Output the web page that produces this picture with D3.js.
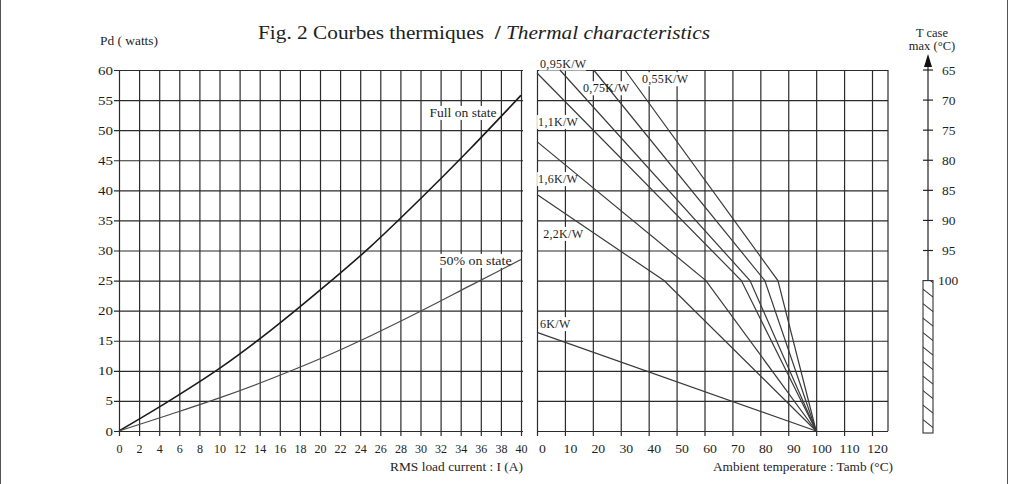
<!DOCTYPE html>
<html><head><meta charset="utf-8">
<script src="https://cdn.jsdelivr.net/npm/d3@7"></script>
<style>
body{margin:0;background:#fff}
svg{display:block}
text{font-family:"Liberation Serif","DejaVu Serif",serif;fill:#1e1e1e}
</style>
</head><body><svg id="c" width="1010" height="484"></svg>
<script>
// ---- data ----
const currentTicks = d3.range(0, 41, 2);
const powerTicks = d3.range(0, 61, 5);
const tambTicks = d3.range(0, 121, 10);
const tcaseTicks = [65, 70, 75, 80, 85, 90, 95];
const tcaseLimit = 100;

const currentA = [0, 5, 10, 15, 20, 25, 30, 35, 40];
const fullOn   = [0, 5.0, 10.4, 16.6, 23.4, 30.6, 38.6, 47.0, 55.8];
const halfOn   = [0, 2.7, 5.5, 8.6, 12.0, 15.8, 19.9, 24.2, 28.5];

const rthNames = ["0,55K/W", "0,75K/W", "0,95K/W", "1,1K/W", "1,6K/W", "2,2K/W", "6K/W"];
const rthTamb  = [[31.5, 86.3, 100], [20.3, 81.6, 100], [8.2, 76.3, 100], [0, 73.2, 100], [0, 60.5, 100], [0, 45.5, 100], [0, 100]];
const rthPower = [[60, 25, 0], [60, 25, 0], [60, 25, 0], [59.5, 25, 0], [48.1, 25, 0], [39.3, 25, 0], [16.4, 0]];
const rthLabelT = [37.6, 16.5, 1.1, 0.4, 0.4, 2.2, 1.1];
const rthLabelP = [57.8, 56.3, 60.4, 50.7, 41.2, 32.1, 17.1];

const curveNames = ["Full on state", "50% on state"];
const curveLabelI = [30.9, 31.9];
const curveLabelP = [52.2, 27.6];

// ---- scales ----
const svg = d3.select("#c");
const xL = d3.scaleLinear([0, 40], [119, 521]);
const y = d3.scaleLinear([0, 60], [431, 70]);
const xR = d3.scaleLinear([0, 120], [537, 872]);
const rightEdge = 888;
const tc = d3.scaleLinear([65, 125], [y(60), y(0)]);
const gridColor = "#2b2b2b";

function stretch(sel, k) {
  sel.each(function () {
    const w = this.getComputedTextLength();
    d3.select(this).attr("textLength", w * k).attr("lengthAdjust", "spacingAndGlyphs");
  });
}
function fitWidth(sel, w) {
  sel.attr("textLength", w).attr("lengthAdjust", "spacingAndGlyphs");
}

// frame
svg.append("line").attr("x1", 0.5).attr("x2", 0.5).attr("y1", 0).attr("y2", 484).attr("stroke", "#555");
svg.append("line").attr("x1", 1007.5).attr("x2", 1007.5).attr("y1", 0).attr("y2", 484).attr("stroke", "#555");

const gGrid = svg.append("g");
const gBg = svg.append("g");
const gCurves = svg.append("g");
const gText = svg.append("g");

function styleAxis(g, size) {
  g.select(".domain").remove();
  g.selectAll(".tick line").attr("stroke", gridColor).attr("stroke-width", 1.2);
  g.selectAll(".tick text").attr("font-size", size).attr("fill", "#1a1a1a")
    .attr("font-family", "'Liberation Serif',serif");
}

// left plot grid + axes
const hL = y(0) + 5 - y(60);
gGrid.append("g").attr("transform", `translate(0,${y(0) + 5})`)
  .call(d3.axisBottom(xL).tickValues(currentTicks).tickSizeInner(-hL).tickSizeOuter(0).tickPadding(8))
  .call(g => styleAxis(g, 12));
const wL = xL(40) + 2 - (xL(0) - 5);
const yAx = gGrid.append("g").attr("transform", `translate(${xL(0) - 5},0)`)
  .call(d3.axisLeft(y).tickValues(powerTicks).tickSizeInner(-wL).tickSizeOuter(0).tickPadding(1))
  .call(g => styleAxis(g, 12.5));
stretch(yAx.selectAll(".tick text"), 1.2);

// right plot grid + axes
const rAx = gGrid.append("g").attr("transform", `translate(0,${y(0) + 5})`)
  .call(d3.axisBottom(xR).tickValues(tambTicks).tickSizeInner(-hL).tickSizeOuter(0).tickPadding(8))
  .call(g => styleAxis(g, 12.5));
rAx.selectAll(".tick text").attr("dx", 5);
stretch(rAx.selectAll(".tick text"), 1.1);
gGrid.append("g").attr("transform", `translate(${xR(0)},0)`)
  .call(d3.axisLeft(y).tickValues(powerTicks).tickSizeInner(-(rightEdge - xR(0))).tickSizeOuter(0).tickFormat(""))
  .call(g => styleAxis(g, 12));
gGrid.append("line").attr("x1", rightEdge).attr("x2", rightEdge).attr("y1", y(60)).attr("y2", y(0))
  .attr("stroke", gridColor).attr("stroke-width", 1.2);

// curves left
const lineL = d3.line().x(d => xL(d[0])).y(d => y(d[1])).curve(d3.curveMonotoneX);
gCurves.append("path").attr("d", lineL(currentA.map((c, i) => [c, fullOn[i]])))
  .attr("fill", "none").attr("stroke", "#1a1a1a").attr("stroke-width", 1.6);
gCurves.append("path").attr("d", lineL(currentA.map((c, i) => [c, halfOn[i]])))
  .attr("fill", "none").attr("stroke", "#4a4a4a").attr("stroke-width", 1.2);

// curves right
const lineR = d3.line().x(d => xR(d[0])).y(d => y(d[1]));
rthNames.forEach((n, k) => {
  gCurves.append("path").attr("d", lineR(rthTamb[k].map((t, i) => [t, rthPower[k][i]])))
    .attr("fill", "none").attr("stroke", "#3a3a3a").attr("stroke-width", 1.2);
});

function label(x, yy, txt, size, bg, width) {
  const t = gText.append("text").attr("x", x).attr("y", yy).attr("font-size", size).text(txt);
  if (width) fitWidth(t, width);
  if (bg) {
    const b = t.node().getBBox();
    gBg.append("rect").attr("x", b.x - 1).attr("y", b.y).attr("width", b.width + 2).attr("height", b.height)
      .attr("fill", "#fff");
  }
  return t;
}
rthNames.forEach((n, k) => label(xR(rthLabelT[k]), y(rthLabelP[k]), n, 12, true).attr("letter-spacing", 0.3));
const curveW = [67, 72];
curveNames.forEach((n, k) => label(xL(curveLabelI[k]), y(curveLabelP[k]), n, 12.5, true, curveW[k]));

// titles
const title = gText.append("text").attr("x", 258).attr("y", 39).attr("font-size", 18.5);
title.append("tspan").text("Fig. 2 Courbes thermiques \u00a0");
title.append("tspan").attr("font-weight", "bold").text("/ ");
title.append("tspan").attr("font-style", "italic").text("Thermal characteristics");
fitWidth(title, 452);
fitWidth(gText.append("text").attr("x", 100).attr("y", 45).attr("font-size", 12).text("Pd ( watts)"), 58);
fitWidth(gText.append("text").attr("x", 390).attr("y", 471).attr("font-size", 12.5).text("RMS load current : I (A)"), 133);
fitWidth(gText.append("text").attr("x", 713).attr("y", 471).attr("font-size", 12.5).text("Ambient temperature : Tamb (\u00b0C)"), 180);

// T case scale
const ax = 928;
svg.append("line").attr("x1", ax).attr("x2", ax).attr("y1", tc(65) - 8).attr("y2", tc(tcaseLimit))
  .attr("stroke", "#222").attr("stroke-width", 1.2);
svg.append("path").attr("d", `M${ax},${tc(65) - 16}L${ax - 4},${tc(65) - 3}L${ax + 4},${tc(65) - 3}Z`).attr("fill", "#111");
tcaseTicks.forEach(v => {
  svg.append("line").attr("x1", ax - 5).attr("x2", ax + 5).attr("y1", tc(v)).attr("y2", tc(v))
    .attr("stroke", "#222").attr("stroke-width", 1.2);
  gText.append("text").attr("x", ax + 14).attr("y", tc(v)).attr("dy", "0.35em").attr("font-size", 13.5).text(v);
});
gText.append("text").attr("x", ax + 10).attr("y", tc(tcaseLimit)).attr("dy", "0.35em").attr("font-size", 13.5).text(tcaseLimit);
gText.append("text").attr("x", 932).attr("y", 37).attr("font-size", 12.5).attr("text-anchor", "middle").text("T case");
gText.append("text").attr("x", 932).attr("y", 50).attr("font-size", 12.5).attr("text-anchor", "middle").text("max (\u00b0C)");

// hatched bar
const barTop = tc(tcaseLimit), barBot = tc(125) + 2;
svg.append("clipPath").attr("id", "bc").append("rect")
  .attr("x", ax - 5).attr("y", barTop).attr("width", 10).attr("height", barBot - barTop);
const hatch = svg.append("g").attr("clip-path", "url(#bc)");
d3.range(barTop - 6, barBot + 8, 14.5).forEach(v => {
  hatch.append("line").attr("x1", ax - 5).attr("x2", ax + 5).attr("y1", v).attr("y2", v + 8)
    .attr("stroke", "#333").attr("stroke-width", 1.1);
});
svg.append("rect").attr("x", ax - 5).attr("y", barTop).attr("width", 10).attr("height", barBot - barTop)
  .attr("fill", "none").attr("stroke", "#333").attr("stroke-width", 1.1);
</script>
</body></html>
